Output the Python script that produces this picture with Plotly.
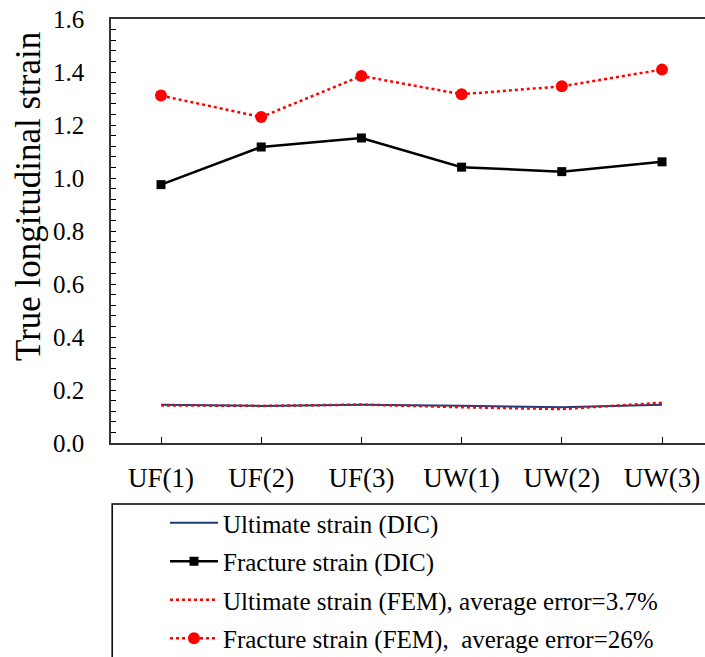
import plotly.graph_objects as go

categories = ["UF(1)", "UF(2)", "UF(3)", "UW(1)", "UW(2)", "UW(3)"]
ultimate_dic = [0.144, 0.140, 0.144, 0.141, 0.135, 0.144]
fracture_dic = [0.975, 1.117, 1.151, 1.041, 1.024, 1.061]
ultimate_fem = [0.142, 0.140, 0.145, 0.135, 0.128, 0.152]
fracture_fem = [1.311, 1.230, 1.385, 1.316, 1.346, 1.409]
y_ticks = [0.0, 0.2, 0.4, 0.6, 0.8, 1.0, 1.2, 1.4, 1.6]

FONT = "Liberation Serif, Times New Roman, serif"
W, H = 705, 657
L, T, R, B = 111, 19, 0, 214

x = list(range(len(categories)))

fig = go.Figure()
fig.add_trace(go.Scatter(x=x, y=ultimate_dic, mode="lines", name="Ultimate strain (DIC)",
                         line=dict(color="#1f3b7a", width=2), legendgroup="a"))
fig.add_trace(go.Scatter(x=x, y=fracture_dic, mode="lines+markers", name="Fracture strain (DIC)",
                         line=dict(color="black", width=2.5),
                         marker=dict(symbol="square", size=9, color="black"), legendgroup="b"))
fig.add_trace(go.Scatter(x=x, y=ultimate_fem, mode="lines", name="Ultimate strain (FEM), average error=3.7%",
                         line=dict(color="#ff0000", width=2.5, dash="dot"), legendgroup="c"))
fig.add_trace(go.Scatter(x=x, y=fracture_fem, mode="lines+markers", name="Fracture strain (FEM),  average error=26%",
                         line=dict(color="#ff0000", width=2.5, dash="dot"),
                         marker=dict(symbol="circle", size=12, color="#ff0000"), legendgroup="d"))

plot_h = H - T - B
plot_w = W - L - R
spacing = 100.2
x_lo = -(161 - L) / spacing
x_hi = x_lo + plot_w / spacing

fig.update_layout(
    width=W, height=H,
    margin=dict(l=L, r=R, t=T, b=B, autoexpand=False),
    paper_bgcolor="white", plot_bgcolor="white",
    font=dict(family=FONT, color="black"),
    showlegend=True,
    legend=dict(
        xref="container", yref="container",
        x=165 / W, y=1 - 500 / H, xanchor="left", yanchor="top",
        font=dict(family=FONT, size=25, color="black"),
        bgcolor="rgba(0,0,0,0)", borderwidth=0,
        traceorder="grouped", tracegroupgap=3,
        itemwidth=48,
    ),
    xaxis=dict(
        range=[x_lo, x_hi], tickmode="array", tickvals=x, ticktext=categories,
        ticks="inside", ticklen=6, tickwidth=1, tickcolor="black",
        showline=True, linecolor="#333333", linewidth=1.5, mirror=True,
        showgrid=False, zeroline=False, tickangle=0,
        tickfont=dict(family=FONT, size=27, color="black"),
        ticklabelstandoff=10, ticklabeloverflow="allow",
    ),
    yaxis=dict(
        range=[0, 1.6], tickmode="array", tickvals=y_ticks,
        ticktext=[f"{v:.1f}" for v in y_ticks],
        ticks="inside", ticklen=5, tickwidth=1, tickcolor="black",
        minor=dict(dtick=0.04, ticks="inside", ticklen=5, tickwidth=1, tickcolor="black", showgrid=False),
        showline=True, linecolor="#333333", linewidth=1.5, mirror=False,
        showgrid=False, zeroline=False,
        tickfont=dict(family=FONT, size=25, color="black"),
        ticklabelstandoff=20, ticklabeloverflow="allow",
    ),
)

# legend frame (extends beyond the visible figure like the cropped original)
fig.add_shape(type="rect", xref="paper", yref="paper",
              x0=0.002, x1=1.2, y0=-1.0, y1=-(504 - (H - B)) / plot_h,
              line=dict(color="black", width=1.5), fillcolor="rgba(0,0,0,0)", layer="above")

fig.add_annotation(text="True longitudinal strain", textangle=-90,
                   xref="paper", yref="paper",
                   x=(29 - L) / plot_w, y=1 - (197 - T) / plot_h,
                   xanchor="center", yanchor="middle", showarrow=False,
                   font=dict(family=FONT, size=35, color="black"))

fig.write_html(
    "out.html",
    config={"displayModeBar": False},
    post_script="document.body.style.margin='0';document.body.style.overflow='hidden';",
)
